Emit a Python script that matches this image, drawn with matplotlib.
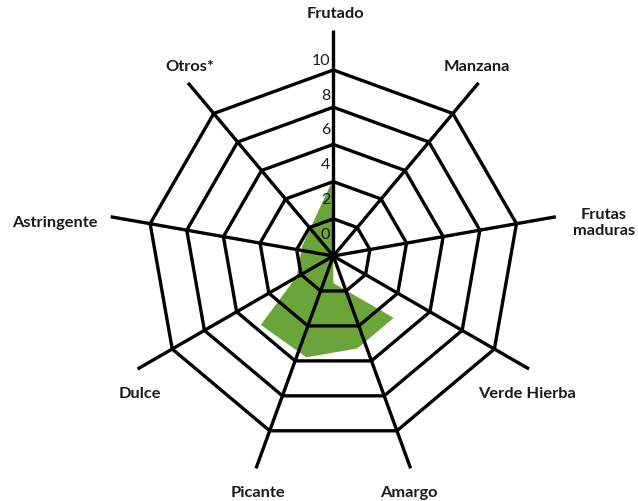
import numpy as np
import matplotlib
matplotlib.use("Agg")
import matplotlib.pyplot as plt

plt.rcParams['font.family'] = ['Lato', 'DejaVu Sans']

# ---- data ----
categories = ["Frutado", "Manzana", "Frutas\nmaduras", "Verde Hierba", "Amargo",
              "Picante", "Dulce", "Astringente", "Otros*"]
values = [5.6, 0.0, 0.0, 3.75, 3.75, 4.25, 4.5, 2.0, 2.6]
ring_levels = [2, 4, 6, 8, 10]
tick_values = [0, 2, 4, 6, 8, 10]
tick_labels = ["0", "2", "4", "6", "8", "10"]

# ---- layout ----
W, H, DPI = 638, 502, 100
cx, cy = 333.3, 257.0          # centre in pixels (from top-left)
px_per_unit = 18.6
rmax = 13.0
spoke_len = 12.15
green_shift = 27               # px, fill drawn lower

fig = plt.figure(figsize=(W / DPI, H / DPI), dpi=DPI)
fig.patch.set_facecolor("white")
half = rmax * px_per_unit

def box(dy=0):
    return [(cx - half) / W, (H - (cy + dy) - half) / H, 2 * half / W, 2 * half / H]

n = len(categories)
theta = np.linspace(0, 2 * np.pi, n, endpoint=False)

def setup(a):
    a.set_theta_zero_location("N")
    a.set_theta_direction(-1)
    a.set_ylim(0, rmax)
    a.set_xticks([])
    a.set_yticks([])
    a.grid(False)
    a.spines["polar"].set_visible(False)
    a.patch.set_visible(False)

# green fill axes (beneath)
axg = fig.add_axes(box(green_shift), projection="polar", zorder=0)
setup(axg)
tv = np.append(theta, theta[0])
vv = np.append(values, values[0])
axg.fill(tv, vv, color="#6aa53a", linewidth=0)

# grid axes
ax = fig.add_axes(box(0), projection="polar", zorder=1)
setup(ax)
lw = 2.4
for lv in ring_levels:
    ax.plot(tv, [lv] * len(tv), color="black", lw=lw, solid_joinstyle="miter",
            clip_on=False)
for t in theta:
    ax.plot([t, t], [0, spoke_len], color="black", lw=lw, clip_on=False,
            solid_capstyle="butt")

# radial tick labels (drawn slightly inward of each ring, as in the original)
for v, lab in zip(tick_values, tick_labels):
    r = 1.18 + 0.937 * v
    ax.annotate(lab, xy=(0, r), xytext=(-3, 0), textcoords="offset pixels",
                ha="right", va="center", fontsize=11.5, color="#1a1a1a")

# category labels
for t, lab in zip(theta, categories):
    sx, sy = np.sin(t), np.cos(t)
    if abs(sx) > 0.9:
        ha = "left" if sx > 0 else "right"
        off = (17 if sx > 0 else -13, -5)
        va = "center"
    else:
        ha, va = "center", "center"
        off = (-2 if sx > 0 else 2, 17 if sy > 0 else -24)
    ax.annotate(lab, xy=(t, spoke_len), xytext=off, textcoords="offset pixels",
                ha=ha, va=va, fontsize=11.8, fontweight="bold", color="#1a1a1a",
                multialignment="center", annotation_clip=False)

fig.savefig("out.png", dpi=DPI, facecolor="white")
